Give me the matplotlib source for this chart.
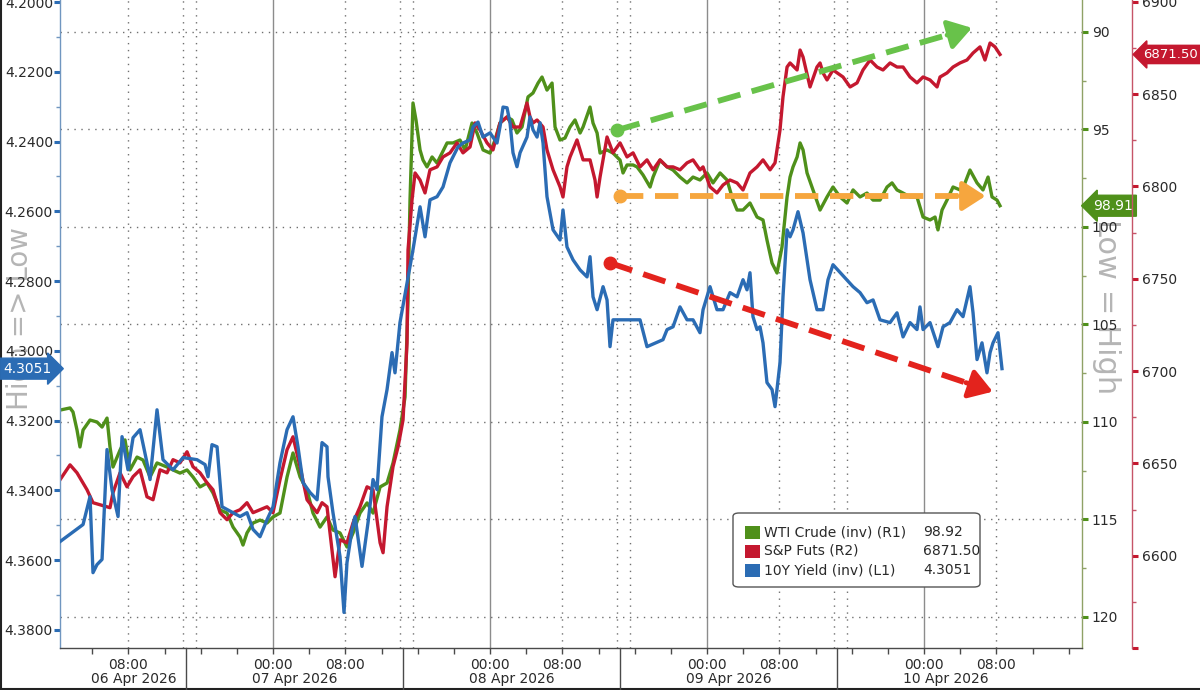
import numpy as np
import matplotlib
matplotlib.use("Agg")
import matplotlib.pyplot as plt
import matplotlib.dates as mdates
import matplotlib.ticker as mticker
import matplotlib.transforms as mtrans
from matplotlib.patches import FancyBboxPatch, Rectangle
from matplotlib.lines import Line2D
from datetime import datetime

plt.rcParams['font.family'] = ['DejaVu Sans']

# ---------------- data (hours since 06 Apr 2026 00:00) ----------------
ust_hours = [0.44,2.99,3.76,4.09,4.53,5.09,5.64,6.19,6.86,7.30,
             7.96,8.52,9.29,10.06,10.40,11.17,11.83,12.94,14.05,15.59,
             16.48,16.81,17.25,17.81,18.36,19.58,20.35,21.12,21.79,22.56,
             23.34,24.00,24.77,25.55,26.21,26.76,27.32,28.09,28.87,29.42,
             29.97,30.08,30.63,31.41,31.85,32.18,32.74,33.07,33.84,34.51,
             35.06,35.50,36.05,36.61,37.16,37.49,38.04,38.82,39.48,40.26,
             40.81,41.36,42.14,42.80,43.57,44.46,45.01,45.79,46.12,46.67,
             47.22,48.00,48.77,49.10,49.44,49.88,50.21,50.54,50.98,51.32,
             52.09,52.42,52.75,53.20,53.53,53.86,54.30,54.97,55.74,56.07,
             56.51,57.18,57.96,58.73,59.06,59.39,59.84,60.50,60.94,61.27,
             61.60,64.59,65.36,67.13,67.58,68.24,69.01,69.79,70.45,71.22,
             71.56,72.33,73.10,73.77,74.54,75.32,75.98,76.42,76.75,77.08,
             77.53,77.86,78.19,78.63,79.19,79.52,80.07,80.40,80.85,81.18,
             81.51,82.06,82.62,83.39,84.16,84.83,85.38,85.93,88.15,88.92,
             89.69,90.36,91.13,92.24,93.01,93.68,94.45,95.22,95.55,95.89,
             96.66,97.54,98.10,98.87,99.65,100.31,101.08,101.42,101.86,102.41,
             102.96,103.30,103.63,104.18,104.62]
ust_values = [4.3547,4.3498,4.3418,4.3636,4.3613,4.3598,4.3283,4.3398,4.3475,4.3246,
              4.3341,4.3249,4.3226,4.3321,4.3369,4.3169,4.3312,4.3341,4.3306,4.3312,
              4.3326,4.3361,4.3269,4.3275,4.3447,4.3464,4.3475,4.3464,4.3512,4.3533,
              4.3484,4.3447,4.3321,4.3226,4.3189,4.3275,4.3378,4.3406,4.3427,4.3263,
              4.3275,4.3361,4.3464,4.3590,4.3750,4.3607,4.3512,4.3475,4.3618,4.3492,
              4.3369,4.3398,4.3189,4.3111,4.3005,4.3063,4.2919,4.2805,4.2710,4.2587,
              4.2673,4.2567,4.2558,4.2530,4.2461,4.2415,4.2404,4.2395,4.2358,4.2344,
              4.2387,4.2375,4.2404,4.2358,4.2301,4.2303,4.2346,4.2432,4.2472,4.2432,
              4.2387,4.2329,4.2366,4.2387,4.2346,4.2404,4.2558,4.2653,4.2682,4.2596,
              4.2702,4.2739,4.2768,4.2788,4.2730,4.2845,4.2882,4.2816,4.2854,4.2988,
              4.2911,4.2911,4.2988,4.2968,4.2939,4.2931,4.2874,4.2911,4.2911,4.2948,
              4.2882,4.2816,4.2882,4.2882,4.2833,4.2845,4.2796,4.2825,4.2776,4.2902,
              4.2939,4.2931,4.2977,4.3091,4.3111,4.3160,4.3034,4.2845,4.2653,4.2673,
              4.2653,4.2601,4.2662,4.2796,4.2882,4.2882,4.2796,4.2753,4.2816,4.2833,
              4.2862,4.2854,4.2911,4.2919,4.2891,4.2960,4.2919,4.2939,4.2874,4.2939,
              4.2919,4.2988,4.2931,4.2919,4.2882,4.2902,4.2816,4.2891,4.3025,4.2977,
              4.3063,4.3005,4.2977,4.2948,4.3051]

spx_hours = [0.44,1.55,2.32,3.43,4.09,4.87,5.97,6.30,7.08,7.85,
             8.52,9.29,10.06,10.73,11.50,12.28,12.94,13.71,14.49,15.15,
             15.93,16.70,17.36,18.14,18.91,19.58,20.35,21.12,21.79,22.56,
             23.34,24.00,24.77,25.55,26.21,26.99,27.76,28.87,29.42,29.97,
             30.86,31.41,32.18,32.85,33.62,34.40,35.06,35.84,36.17,36.61,
             37.27,37.83,38.38,38.82,38.93,39.37,39.71,40.26,40.81,41.36,
             42.14,42.80,43.57,44.35,45.01,45.79,46.34,46.89,47.67,48.33,
             49.10,49.88,50.54,51.32,52.09,52.42,52.75,53.20,53.86,54.30,
             54.97,55.74,56.07,56.51,56.85,57.62,57.96,58.29,59.06,59.61,
             59.84,60.17,60.94,61.60,62.38,63.15,63.82,64.59,65.36,66.03,
             66.80,67.58,68.24,69.01,69.79,70.45,71.22,71.56,72.33,73.10,
             73.77,74.54,75.32,75.98,76.75,77.53,78.19,78.97,79.52,80.07,
             80.40,80.85,81.18,81.96,82.29,82.62,83.39,84.16,84.50,84.83,
             85.27,85.93,87.04,87.82,88.59,89.25,90.03,90.80,91.46,92.24,
             93.01,93.68,94.45,95.22,95.89,96.66,97.44,97.77,98.54,99.21,
             99.98,100.75,101.42,102.19,102.74,103.30,103.85,104.40]
spx_values = [6641.1,6649.2,6644.9,6635.7,6628.7,6627.6,6626.0,6634.1,6644.9,6637.3,
              6642.8,6646.5,6631.9,6630.3,6646.5,6644.9,6652.0,6650.3,6656.3,6648.2,
              6644.9,6639.5,6635.7,6623.3,6619.5,6623.3,6624.9,6628.7,6623.3,6624.9,
              6626.5,6623.3,6641.1,6657.4,6664.4,6648.2,6630.3,6623.3,6628.7,6626.5,
              6588.6,6608.6,6607.0,6617.8,6626.5,6637.3,6635.7,6607.0,6601.6,6626.5,
              6648.2,6659.0,6673.6,6715.3,6765.6,6792.7,6807.3,6803.5,6796.5,6809.0,
              6810.6,6816.0,6818.2,6823.6,6818.2,6821.4,6834.4,6830.6,6823.6,6819.8,
              6834.4,6837.7,6832.2,6832.2,6845.2,6837.7,6834.4,6836.0,6832.2,6819.8,
              6809.0,6799.8,6794.3,6810.6,6816.0,6825.2,6819.8,6814.4,6814.4,6803.5,
              6794.3,6805.2,6826.8,6818.2,6823.6,6816.0,6818.2,6810.6,6814.4,6809.0,
              6814.4,6810.6,6810.6,6809.0,6812.8,6814.4,6809.0,6810.6,6799.8,6796.5,
              6800.8,6803.5,6801.9,6798.1,6807.3,6810.6,6814.4,6809.0,6812.8,6830.6,
              6848.5,6864.7,6866.9,6863.1,6873.9,6870.1,6853.9,6864.7,6866.9,6861.5,
              6857.7,6863.1,6859.3,6853.9,6856.1,6863.1,6868.5,6864.7,6863.1,6866.9,
              6864.7,6864.7,6859.3,6856.1,6859.3,6857.7,6853.9,6859.3,6861.5,6864.7,
              6866.9,6868.5,6872.3,6875.6,6868.5,6877.7,6875.6,6871.5]

wti_hours = [0.44,1.55,1.88,2.32,2.65,2.99,3.76,4.53,5.09,5.64,
             5.97,6.30,7.08,7.63,8.18,8.96,9.62,10.40,11.17,12.28,
             12.94,13.71,14.49,15.15,15.93,16.70,17.36,18.14,18.91,19.58,
             20.35,20.68,21.12,21.79,22.56,23.34,24.00,24.77,25.55,26.21,
             26.99,27.76,28.42,29.20,29.97,30.63,31.41,32.18,32.85,33.62,
             34.40,35.06,35.84,36.61,37.27,38.04,38.60,38.93,39.15,39.48,
             39.81,40.26,40.59,41.03,41.59,42.14,42.69,43.25,43.91,44.68,
             45.24,46.01,46.56,47.23,48.00,48.55,49.10,49.88,50.43,50.98,
             51.54,52.20,52.75,53.31,53.75,54.30,54.86,55.19,55.74,56.29,
             56.85,57.40,57.96,58.29,59.06,59.39,59.84,60.17,60.94,61.60,
             62.38,62.71,63.15,63.82,64.26,64.92,65.70,66.03,66.80,67.58,
             68.24,69.01,69.79,70.45,71.22,72.00,72.66,73.44,74.21,74.87,
             75.32,75.98,76.75,77.53,78.19,78.63,79.19,79.74,80.29,80.85,
             81.18,81.51,81.96,82.29,82.62,83.06,83.72,84.50,85.27,85.93,
             86.71,87.48,88.15,88.92,89.69,90.36,91.13,91.91,92.46,93.01,
             93.68,94.45,95.22,95.89,96.66,97.22,97.54,97.99,98.54,99.21,
             99.98,100.53,101.08,101.86,102.52,103.08,103.52,104.07,104.40]
wti_values = [109.39,109.28,109.49,110.41,111.28,110.41,109.90,110.00,110.26,109.80,
              111.28,112.31,111.44,110.92,112.46,111.80,111.95,112.82,112.10,112.31,
              112.46,112.62,112.46,112.82,113.33,113.13,113.64,114.51,114.67,115.39,
              115.90,116.31,115.69,115.18,115.03,115.18,114.87,114.67,112.82,111.59,
              112.82,113.49,114.67,115.39,114.87,115.54,115.69,116.41,115.69,114.67,
              114.15,114.67,113.33,113.13,112.10,110.41,108.72,103.74,98.62,93.64,
              94.51,96.05,96.57,96.92,96.41,96.72,96.21,95.69,95.69,95.54,
              96.05,94.67,95.18,96.05,96.21,95.54,94.67,94.36,94.51,95.18,
              94.87,93.33,93.13,92.62,92.31,92.98,92.62,94.87,95.54,95.44,
              94.87,94.51,95.18,94.87,93.85,94.67,95.18,96.21,96.05,96.21,
              96.57,97.23,96.82,96.82,96.92,97.33,97.95,97.44,96.57,96.92,
              97.08,97.44,97.74,97.44,97.59,97.23,97.74,97.23,97.59,98.62,
              99.13,99.13,98.77,99.49,99.64,100.67,101.85,102.36,101.03,98.46,
              97.44,96.92,96.41,95.69,96.05,97.23,98.10,99.13,98.46,97.95,
              98.46,98.77,98.10,98.46,98.26,98.62,98.62,97.95,97.74,98.10,
              98.26,98.46,98.46,99.49,99.64,99.49,100.15,99.13,98.62,97.95,
              98.10,97.74,97.08,97.74,98.10,97.44,98.46,98.62,98.91]

legend_labels = ["WTI Crude (inv) (R1)", "S&P Futs (R2)", "10Y Yield (inv) (L1)"]
legend_values = ["98.92", "6871.50", "4.3051"]
last_wti, last_spx, last_ust = 98.91, 6871.50, 4.3051

day_labels = ["06 Apr 2026", "07 Apr 2026", "08 Apr 2026", "09 Apr 2026", "10 Apr 2026"]
day_label_hours = [8.6, 26.4, 50.4, 74.4, 98.4]
time_tick_hours = [8, 24, 32, 48, 56, 72, 80, 96, 104]
midnight_hours = [24, 48, 72, 96]
eight_hours = [8, 32, 56, 80, 104]
separator_hours = [14.4, 38.4, 62.4, 86.4]

# trend annotations (hours, 10Y-axis value) -> (hours, value)
trend_arrows = [
    (62.05, 4.2367, 101.3, 4.2074, '#68c24a'),
    (62.38, 4.2556, 102.8, 4.2556, '#f6a63e'),
    (61.27, 4.2748, 103.6, 4.3117, '#e3231d'),
]

GREEN = '#4f901a'
RED = '#c4182f'
BLUE = '#2b6cb4'

BASE = mdates.date2num(datetime(2026, 4, 6))


def t(h):
    return BASE + np.asarray(h, dtype=float) / 24.0


fig = plt.figure(figsize=(12, 6.9), dpi=100)
fig.patch.set_facecolor('white')
ax = fig.add_axes([60 / 1200, 42 / 690, 1022 / 1200, 648 / 690])
ax_g = ax.twinx()
ax_r = ax.twinx()
ax_r.spines['right'].set_position(('axes', 1 + 50 / 1022))
ax.set_zorder(3)
ax_r.set_zorder(2)
ax_g.set_zorder(1)
for a in (ax, ax_g, ax_r):
    a.patch.set_visible(False)

# limits
ax.set_xlim(t(0.44), t(113.47))
ax.set_ylim(4.3852, 4.1994)
ax_g.set_ylim(121.59, 88.36)
ax_r.set_ylim(6550, 6901)

# grid
ax_g.yaxis.set_major_locator(mticker.MultipleLocator(5))
ax_g.yaxis.set_minor_locator(mticker.MultipleLocator(2.5))
ax_g.grid(axis='y', which='major', linestyle=(0, (1, 4)), color='#707070', lw=1.0)
for h in midnight_hours:
    ax_g.axvline(t(h), color='#8c8c8c', lw=1.0, zorder=0)
for h in eight_hours:
    ax_g.axvline(t(h), color='#707070', lw=1.0, ls=(0, (1, 4)), zorder=0)
for h in separator_hours:
    ax_g.axvline(t(h - 0.4), color='#707070', lw=1.0, ls=(0, (1, 4)), zorder=0)
    ax_g.axvline(t(h + 1.1), color='#707070', lw=1.0, ls=(0, (1, 4)), zorder=0)

# series
ax_g.plot(t(wti_hours), wti_values, color=GREEN, lw=2.4, solid_joinstyle='round', zorder=3)
ax_r.plot(t(spx_hours), spx_values, color=RED, lw=2.4, solid_joinstyle='round', zorder=3)
ax.plot(t(ust_hours), ust_values, color=BLUE, lw=2.4, solid_joinstyle='round', zorder=3)

# spines
for a in (ax_g, ax_r):
    for s in ('left', 'top', 'bottom'):
        a.spines[s].set_visible(False)
ax.spines['top'].set_visible(False)
ax.spines['right'].set_visible(False)
ax.spines['left'].set_color('#7096c0')
ax.spines['bottom'].set_color('#4a4a4a')
ax_g.spines['right'].set_color('#8fa266')
ax_r.spines['right'].set_color('#c65468')
for a in (ax, ax_g, ax_r):
    for s in a.spines.values():
        s.set_linewidth(1.0)

# y ticks
ax.yaxis.set_major_locator(mticker.MultipleLocator(0.02))
ax.yaxis.set_minor_locator(mticker.MultipleLocator(0.01))
ax.yaxis.set_major_formatter(mticker.FormatStrFormatter('%.4f'))
ax.tick_params(axis='y', which='major', length=4, width=2.2, color=BLUE, pad=1,
               labelsize=10, labelcolor='#2a2a2a')
ax.tick_params(axis='y', which='minor', length=3, width=1, color='#7096c0')

ax_g.yaxis.set_major_formatter(mticker.FormatStrFormatter('%d'))
ax_g.tick_params(axis='y', which='major', length=4, width=2.2, color=GREEN, pad=3,
                 labelsize=10, labelcolor='#2a2a2a')
ax_g.tick_params(axis='y', which='minor', length=3, width=1, color='#8fa266')

ax_r.yaxis.set_major_locator(mticker.MultipleLocator(50))
ax_r.yaxis.set_minor_locator(mticker.MultipleLocator(25))
ax_r.yaxis.set_major_formatter(mticker.FuncFormatter(lambda v, p: '' if v < 6575 else '%d' % v))
ax_r.tick_params(axis='y', which='major', length=4, width=2.2, color=RED, pad=3,
                 labelsize=10, labelcolor='#2a2a2a')
ax_r.tick_params(axis='y', which='minor', length=3, width=1, color='#c65468')

# x ticks
ax.xaxis.set_major_locator(mticker.FixedLocator(t(time_tick_hours)))
ax.xaxis.set_major_formatter(mticker.FixedFormatter(
    [mdates.num2date(v).strftime('%H:%M') for v in t(time_tick_hours)]))
ax.xaxis.set_minor_locator(mticker.FixedLocator(t(np.arange(4, 113, 4))))
ax.tick_params(axis='x', which='both', length=4, width=1, color='#4a4a4a', pad=3,
               labelsize=10, labelcolor='#2a2a2a')

bx = mtrans.blended_transform_factory(ax.transData, ax.transAxes)
for lab, h in zip(day_labels, day_label_hours):
    ax.text(t(h), -0.048, lab, transform=bx, ha='center', va='center', fontsize=10,
            color='#2a2a2a', clip_on=False)
for h in separator_hours:
    ax.add_line(Line2D([t(h), t(h)], [0, -0.07], transform=bx, color='#4a4a4a',
                       lw=1.0, clip_on=False))

# trend arrows
for h0, v0, h1, v1, c in trend_arrows:
    x0, x1 = t(h0), t(h1)
    xm, vm = x0 + (x1 - x0) * 0.95, v0 + (v1 - v0) * 0.95
    ax.plot([x0, xm], [v0, vm], color=c, lw=4.2, ls=(0, (4, 2)),
            dash_capstyle='butt', zorder=6)
    ax.plot([x0], [v0], 'o', color=c, ms=9, zorder=6)
    xa, va = x0 + (x1 - x0) * 0.93, v0 + (v1 - v0) * 0.93
    ax.annotate('', xy=(x1, v1), xytext=(xa, va),
                arrowprops=dict(arrowstyle='-|>,head_length=0.7,head_width=0.45', color=c,
                                lw=3.5, mutation_scale=20, shrinkA=0, shrinkB=0),
                zorder=7)

# value badges
ax.text(0.003, last_ust, '%.4f' % last_ust,
        transform=mtrans.blended_transform_factory(fig.transFigure, ax.transData),
        ha='left', va='center', color='white', fontsize=10, clip_on=False, zorder=10,
        bbox=dict(boxstyle='rarrow,pad=0.25', fc=BLUE, ec=BLUE))
ax_g.text(1093 / 1200, last_wti, '%.2f' % last_wti,
          transform=mtrans.blended_transform_factory(fig.transFigure, ax_g.transData),
          ha='left', va='center', color='white', fontsize=10, clip_on=False, zorder=10,
          bbox=dict(boxstyle='larrow,pad=0.25', fc=GREEN, ec=GREEN))
ax_r.text(1143 / 1200, last_spx, '%.2f' % last_spx,
          transform=mtrans.blended_transform_factory(fig.transFigure, ax_r.transData),
          ha='left', va='center', color='white', fontsize=9.5, clip_on=False, zorder=10,
          bbox=dict(boxstyle='larrow,pad=0.2', fc=RED, ec=RED))

# watermark axis notes
fig.text(20 / 1200, 1 - 318 / 690, 'High => Low', rotation=90, ha='center', va='center',
         fontsize=20, color='#b5b5b5', zorder=0.5)
fig.text(1106 / 1200, 1 - 307 / 690, 'Low = High', rotation=270, ha='center', va='center',
         fontsize=22, color='#b5b5b5', zorder=0.5)

# legend box
fig.patches.append(FancyBboxPatch((733 / 1200, 103 / 690), 247 / 1200, 74 / 690,
                                  boxstyle='round,pad=0,rounding_size=0.005',
                                  transform=fig.transFigure, fc='white', ec='#555555',
                                  lw=1.0, zorder=10))
row_y = [532, 551, 570]
for lab, val, col, yy in zip(legend_labels, legend_values, [GREEN, RED, BLUE], row_y):
    yf = 1 - yy / 690
    fig.patches.append(Rectangle((745 / 1200, yf - 6.5 / 690), 15 / 1200, 13 / 690,
                                 transform=fig.transFigure, fc=col, ec='none', zorder=11))
    fig.text(764 / 1200, yf, lab, ha='left', va='center', fontsize=10, color='#2a2a2a', zorder=12)
    fig.text(923 / 1200, yf, val, ha='left', va='center', fontsize=10, color='#2a2a2a', zorder=12)

# frame edges
fig.add_artist(Line2D([0.0008, 0.0008], [0, 1], transform=fig.transFigure, color='#222222', lw=1.5))
fig.add_artist(Line2D([0, 1], [0.0015, 0.0015], transform=fig.transFigure, color='#222222', lw=1.5))

fig.savefig('out.png', dpi=100, facecolor='white')
